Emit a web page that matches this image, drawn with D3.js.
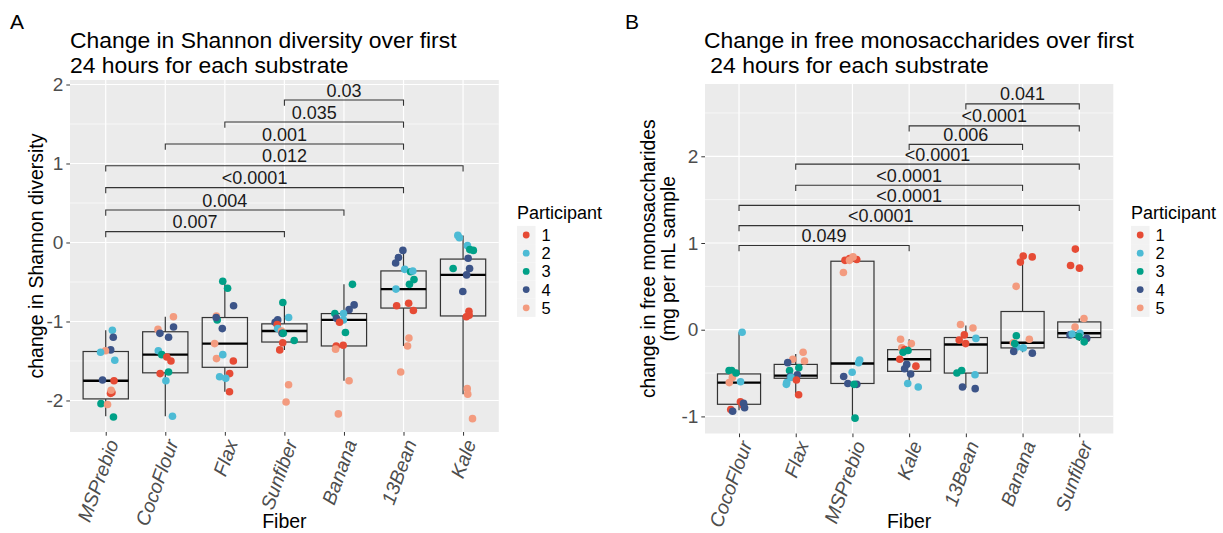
<!DOCTYPE html>
<html><head><meta charset="utf-8">
<script src="https://cdn.jsdelivr.net/npm/d3@7"></script>
<style>body{margin:0;background:#fff;} text{font-family:"Liberation Sans",Arial,Helvetica,sans-serif;}</style>
</head><body>
<svg id="c" width="1223" height="533"></svg>
<script>
// ---------- shared ----------
const participants = ["1","2","3","4","5"];
const participantColors = ["#E64B35","#4DBBD5","#00A087","#3C5488","#F39B7F"];

// ---------- Panel A: Shannon diversity ----------
const fibersA = ["MSPrebio","CocoFlour","Flax","Sunfiber","Banana","13Bean","Kale"];
const shannonMSPrebio = [[2,-1.11],[4,-1.20],[4,-1.36],[5,-1.37],[2,-1.39],[2,-1.49],[1,-1.75],[4,-1.74],[1,-1.91],[1,-1.90],[5,-1.87],[3,-2.04],[5,-2.05],[3,-2.21]];
const shannonCocoFlour = [[5,-0.94],[4,-1.07],[5,-1.10],[4,-1.15],[4,-1.20],[2,-1.37],[3,-1.42],[1,-1.45],[1,-1.50],[1,-1.66],[3,-1.64],[2,-1.75],[2,-2.20]];
const shannonFlax = [[3,-0.49],[3,-0.58],[4,-0.80],[5,-0.93],[3,-0.98],[4,-1.09],[5,-1.28],[5,-1.47],[2,-1.42],[1,-1.50],[1,-1.66],[2,-1.70],[2,-1.72],[1,-1.89],[4,-0.95]];
const shannonSunfiber = [[3,-0.76],[4,-0.98],[2,-0.95],[4,-1.01],[1,-1.04],[2,-1.09],[5,-1.12],[4,-1.15],[3,-1.15],[1,-1.27],[3,-1.24],[1,-1.36],[5,-1.80],[5,-2.02]];
const shannonBanana = [[3,-0.53],[4,-0.79],[4,-0.85],[3,-0.90],[2,-0.90],[4,-0.96],[2,-0.98],[1,-1.01],[3,-1.14],[1,-1.31],[1,-1.30],[5,-1.35],[5,-1.75],[5,-2.17]];
const shannon13Bean = [[4,-0.10],[4,-0.19],[4,-0.26],[2,-0.34],[3,-0.37],[3,-0.47],[3,-0.53],[2,-0.59],[1,-0.77],[1,-0.80],[1,-0.86],[5,-1.21],[5,-1.31],[5,-1.64],[2,-0.36]];
const shannonKale = [[2,0.09],[2,-0.04],[3,-0.09],[3,-0.10],[3,-0.33],[4,-0.33],[4,-0.41],[4,-0.62],[4,-0.20],[1,-0.87],[1,-0.92],[1,-0.94],[5,-1.85],[5,-1.92],[5,-2.23],[2,0.06]];
const shannonBoxLow  = [-2.20,-2.20,-1.89,-1.36,-1.75,-1.31,-1.92];
const shannonBoxQ1   = [-1.98,-1.65,-1.58,-1.26,-1.31,-0.83,-0.93];
const shannonBoxMed  = [-1.75,-1.42,-1.28,-1.12,-0.98,-0.59,-0.41];
const shannonBoxQ3   = [-1.38,-1.13,-0.95,-1.03,-0.90,-0.36,-0.21];
const shannonBoxHigh = [-1.11,-0.94,-0.47,-0.75,-0.53,-0.10,0.09];
const shannonCompFrom  = ["Sunfiber","Flax","CocoFlour","MSPrebio","MSPrebio","MSPrebio","MSPrebio"];
const shannonCompTo    = ["13Bean","13Bean","13Bean","Kale","13Bean","Banana","Sunfiber"];
const shannonCompLabel = ["0.03","0.035","0.001","0.012","<0.0001","0.004","0.007"];
const shannonCompY     = [1.804,1.525,1.247,0.972,0.694,0.411,0.137];
const shannonTicks = [-2,-1,0,1,2];
const shannonMinor = [-1.5,-0.5,0.5,1.5];

// ---------- Panel B: free monosaccharides ----------
const fibersB = ["CocoFlour","Flax","MSPrebio","Kale","13Bean","Banana","Sunfiber"];
const monoCocoFlour = [[2,-0.03],[3,-0.47],[3,-0.47],[2,-0.60],[5,-0.55],[5,-0.61],[1,-0.83],[1,-0.87],[1,-0.92],[4,-0.85],[4,-0.90],[4,-0.94],[3,-0.50]];
const monoFlax = [[5,-0.26],[5,-0.34],[5,-0.36],[4,-0.38],[3,-0.44],[3,-0.47],[4,-0.52],[4,-0.54],[2,-0.55],[1,-0.58],[2,-0.61],[2,-0.63],[1,-0.75]];
const monoMSPrebio = [[1,0.82],[1,0.80],[1,0.81],[5,0.84],[5,0.80],[5,0.66],[2,-0.35],[2,-0.38],[2,-0.49],[4,-0.54],[4,-0.62],[4,-0.63],[3,-0.63],[3,-1.02]];
const monoKale = [[5,-0.11],[5,-0.16],[5,-0.21],[1,-0.23],[3,-0.24],[3,-0.26],[1,-0.34],[4,-0.40],[4,-0.45],[1,-0.42],[4,-0.51],[2,-0.62],[2,-0.66]];
const mono13Bean = [[5,0.06],[5,0.02],[1,-0.06],[1,-0.16],[2,-0.10],[3,-0.47],[3,-0.50],[2,-0.52],[4,-0.68],[4,-0.66],[1,-0.12]];
const monoBanana = [[1,0.85],[1,0.84],[1,0.78],[5,0.50],[3,-0.07],[5,-0.11],[5,-0.15],[2,-0.21],[2,-0.20],[4,-0.25],[4,-0.27],[3,-0.16]];
const monoSunfiber = [[1,0.93],[1,0.74],[1,0.71],[5,0.13],[5,0.03],[2,-0.04],[4,-0.06],[4,-0.10],[3,-0.14],[2,-0.05],[3,-0.08]];
const monoBoxLow  = [-0.93,-0.75,-1.02,-0.64,-0.67,-0.26,-0.13];
const monoBoxQ1   = [-0.86,-0.56,-0.62,-0.48,-0.50,-0.21,-0.09];
const monoBoxMed  = [-0.61,-0.53,-0.39,-0.34,-0.17,-0.15,-0.04];
const monoBoxQ3   = [-0.51,-0.40,0.79,-0.23,-0.09,0.21,0.09];
const monoBoxHigh = [-0.03,-0.28,0.84,-0.11,0.05,0.84,0.13];
const monoCompFrom  = ["13Bean","Kale","Kale","Flax","Flax","CocoFlour","CocoFlour","CocoFlour"];
const monoCompTo    = ["Sunfiber","Sunfiber","Banana","Sunfiber","Banana","Sunfiber","Banana","Kale"];
const monoCompLabel = ["0.041","<0.0001","0.006","<0.0001","<0.0001","<0.0001","<0.0001","0.049"];
const monoCompY     = [2.605,2.351,2.138,1.910,1.667,1.434,1.200,0.971];
const monoTicks = [-1,0,1,2];
const monoMinor = [-0.5,0.5,1.5,2.5];

// ---------- drawing ----------
const svg = d3.select("#c");
const color = d3.scaleOrdinal().domain(participants).range(participantColors);

function jit(i, k){ const s = Math.sin(i*12.9898 + k*78.233 + 1.7)*43758.5453; return (s - Math.floor(s)) - 0.5; }

function drawPanel(o){
  const g = svg.append("g");
  const x = d3.scalePoint().domain(o.cats).range([o.left, o.right]).padding(0.6);
  const y = d3.scaleLinear().domain(o.domain).range([o.bottom, o.top]);
  const step = x.step();
  g.append("rect").attr("x",o.left).attr("y",o.top).attr("width",o.right-o.left).attr("height",o.bottom-o.top).attr("fill","#EBEBEB");
  g.selectAll(".mn").data(o.minor).enter().append("line")
    .attr("x1",o.left).attr("x2",o.right).attr("y1",d=>y(d)).attr("y2",d=>y(d))
    .attr("stroke","#fff").attr("stroke-width",0.6);
  g.selectAll(".mj").data(o.ticks).enter().append("line")
    .attr("x1",o.left).attr("x2",o.right).attr("y1",d=>y(d)).attr("y2",d=>y(d))
    .attr("stroke","#fff").attr("stroke-width",1.2);
  g.selectAll(".vx").data(o.cats).enter().append("line")
    .attr("x1",d=>x(d)).attr("x2",d=>x(d)).attr("y1",o.top).attr("y2",o.bottom)
    .attr("stroke","#fff").attr("stroke-width",1.2);
  const ya = g.append("g").attr("transform",`translate(${o.left},0)`)
    .call(d3.axisLeft(y).tickValues(o.ticks).tickSize(3.7).tickPadding(3).tickFormat(d=>String(d)));
  ya.select(".domain").remove();
  ya.selectAll("line").attr("stroke","#333");
  ya.selectAll("text").attr("fill","#4D4D4D").style("font-size","19px").attr("font-family","Liberation Sans, Arial, sans-serif");
  const xa = g.append("g").attr("transform",`translate(0,${o.bottom})`)
    .call(d3.axisBottom(x).tickSize(3.7).tickPadding(0));
  xa.select(".domain").remove();
  xa.selectAll("line").attr("stroke","#333");
  xa.selectAll("text").attr("fill","#4D4D4D").style("font-size","19.5px").style("font-style","italic")
    .attr("font-family","Liberation Sans, Arial, sans-serif")
    .attr("text-anchor","end").attr("dy",null).attr("y",0)
    .attr("transform","translate(8,9) rotate(-70)").attr("dominant-baseline","middle");
  const bw = step*0.76;
  o.cats.forEach((c,i)=>{
    const cx = x(c);
    g.append("line").attr("x1",cx).attr("x2",cx).attr("y1",y(o.q3[i])).attr("y2",y(o.hi[i])).attr("stroke","#333").attr("stroke-width",1.2);
    g.append("line").attr("x1",cx).attr("x2",cx).attr("y1",y(o.q1[i])).attr("y2",y(o.lo[i])).attr("stroke","#333").attr("stroke-width",1.2);
    g.append("rect").attr("x",cx-bw/2).attr("width",bw).attr("y",y(o.q3[i])).attr("height",y(o.q1[i])-y(o.q3[i]))
      .attr("fill","none").attr("stroke","#333").attr("stroke-width",1.2);
    g.append("line").attr("x1",cx-bw/2).attr("x2",cx+bw/2).attr("y1",y(o.med[i])).attr("y2",y(o.med[i])).attr("stroke","#000").attr("stroke-width",2.4);
  });
  o.cats.forEach((c,i)=>{
    const pts = o.points[i];
    g.selectAll(null).data(pts).enter().append("circle")
      .attr("cx",(d,k)=>x(c)+jit(i+o.seed,k)*0.36*step)
      .attr("cy",d=>y(d[1])).attr("r",3.8)
      .attr("fill",d=>color(String(d[0])));
  });
  o.compFrom.forEach((f,i)=>{
    const x1 = x(f), x2 = x(o.compTo[i]), yy = y(o.compY[i]);
    g.append("path").attr("d",`M${x1},${yy+5.7}V${yy}H${x2}V${yy+5.7}`).attr("fill","none").attr("stroke","#333").attr("stroke-width",1.1);
    g.append("text").attr("x",(x1+x2)/2).attr("y",yy-3.4).attr("text-anchor","middle")
      .style("font-size","18px").attr("fill","#1a1a1a").text(o.compLabel[i]);
  });
  const tg = g.append("g").attr("transform",`translate(${o.titleX},0) scale(1.065,1)`);
  o.title.forEach((s,i)=>tg.append("text").attr("x",0).attr("y",48.5 + i*24.4).attr("xml:space","preserve")
    .style("font-size","21.5px").attr("fill","#000").text(s));
  g.append("text").attr("x",(o.left+o.right)/2).attr("y",528.3).attr("text-anchor","middle").style("font-size","19.5px").attr("fill","#000").text("Fiber");
  const cy = (o.top+o.bottom)/2;
  o.ylab.forEach((s,i)=>{
    g.append("text").attr("transform",`translate(${o.ylabX + i*20},${cy}) rotate(-90)`).attr("text-anchor","middle")
      .style("font-size",o.ylabSize+"px").attr("fill","#000").text(s);
  });
  g.append("text").attr("x",o.tagX).attr("y",29).style("font-size","21px").attr("fill","#000").text(o.tag);
  const lg = g.append("g").attr("transform",`translate(${o.legX},0)`);
  lg.append("text").attr("x",0).attr("y",219).style("font-size","18px").attr("fill","#000").text("Participant");
  participants.forEach((p,i)=>{
    const cyk = 235 + i*18.2;
    lg.append("rect").attr("x",0).attr("y",cyk-9.1).attr("width",18.5).attr("height",18.2).attr("fill","#F2F2F2");
    lg.append("circle").attr("cx",9.2).attr("cy",cyk).attr("r",3.4).attr("fill",color(p));
    lg.append("text").attr("x",24.5).attr("y",cyk+6).style("font-size","16.5px").attr("fill","#000").text(p);
  });
}

drawPanel({
  cats: fibersA, left:70, right:498.8, top:80, bottom:432, domain:[-2.399,2.057],
  ticks: shannonTicks, minor: shannonMinor,
  points:[shannonMSPrebio,shannonCocoFlour,shannonFlax,shannonSunfiber,shannonBanana,shannon13Bean,shannonKale],
  lo:shannonBoxLow,q1:shannonBoxQ1,med:shannonBoxMed,q3:shannonBoxQ3,hi:shannonBoxHigh,
  compFrom:shannonCompFrom, compTo:shannonCompTo, compLabel:shannonCompLabel, compY:shannonCompY,
  title:["Change in Shannon diversity over first","24 hours for each substrate"], titleX:70,
  ylab:["change in Shannon diversity"], ylabX:43, ylabSize:19.5, tag:"A", tagX:10, legX:517, seed:0
});
drawPanel({
  cats: fibersB, left:705, right:1113.3, top:84, bottom:433.5, domain:[-1.197,2.834],
  ticks: monoTicks, minor: monoMinor,
  points:[monoCocoFlour,monoFlax,monoMSPrebio,monoKale,mono13Bean,monoBanana,monoSunfiber],
  lo:monoBoxLow,q1:monoBoxQ1,med:monoBoxMed,q3:monoBoxQ3,hi:monoBoxHigh,
  compFrom:monoCompFrom, compTo:monoCompTo, compLabel:monoCompLabel, compY:monoCompY,
  title:["Change in free monosaccharides over first"," 24 hours for each substrate"], titleX:704,
  ylab:["change in free monosaccharides","(mg per mL sample"], ylabX:655, ylabSize:19.3, tag:"B", tagX:625, legX:1131, seed:11
});
</script>
</body></html>
